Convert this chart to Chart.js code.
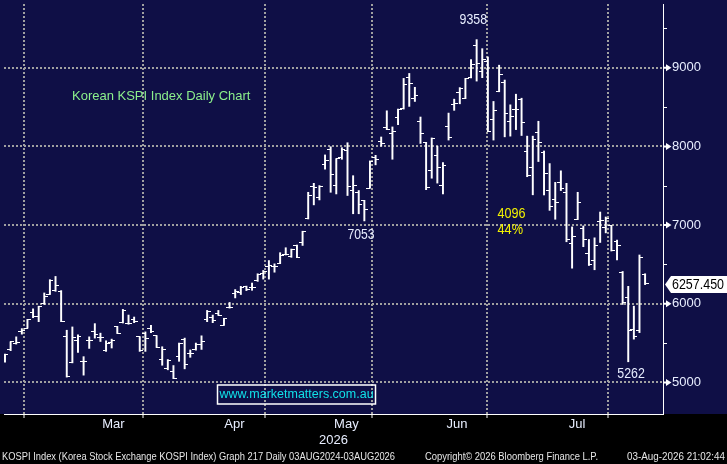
<!DOCTYPE html>
<html>
<head>
<meta charset="utf-8">
<script src="https://cdn.jsdelivr.net/npm/chart.js@4.4.1/dist/chart.umd.min.js"></script>
<style>
html,body{margin:0;padding:0;background:#000;}
#c{display:block;}
</style>
</head>
<body>
<canvas id="c" width="727" height="464" style="width:727px;height:464px"></canvas>
<script>
// ---- Data (KOSPI daily OHLC) ----
const opens = [5319,5412,5500,5646,5689,5894,5844,6007,6117,6167,6160,5583,5255,5529,5270,5529,5651,5570,5403,5507,5709,5759,5752,5797,5579,5626,5684,5592,5290,5172,5138,5324,5545,5361,5412,5487,5802,5831,5881,5726,5957,6129,6142,6221,6209,6293,6389,6470,6469,6515,6628,6603,6737,6775,7081,7493,7354,7766,7955,7502,7858,7942,7439,7408,7313,7471,7862,8068,8236,8160,8374,8483,8878,8610,8320,8047,7690,7887,7502,8257,8529,8685,8610,8874,9277,8950,9075,8340,8698,8811,8320,8466,8592,7933,7732,8181,7921,7439,7320,7543,7409,6766,7074,6955,6640,6545,7048,6964,6989,6796,6401,6083,5676,5655,6369];
const highs = [5361,5516,5579,5684,5802,5935,5969,6137,6306,6347,6167,5663,5705,5604,5327,5579,5747,5626,5529,5550,5712,5928,5856,5831,5582,5642,5726,5595,5453,5290,5214,5500,5563,5412,5500,5592,5915,5856,5915,5815,6016,6180,6221,6224,6263,6381,6423,6549,6507,6649,6712,6695,6746,6922,7417,7531,7502,7892,7996,7845,7984,8047,7628,7439,7315,7816,7887,8120,8453,8248,8475,8865,8928,8752,8374,8050,8108,8003,7795,8424,8601,8748,8865,9104,9358,9243,9138,8572,9033,8844,8529,8664,8613,8131,8131,8320,7942,7782,7543,7690,7531,6977,7417,6989,6817,6838,7166,7103,6997,6809,6410,6221,5969,6620,6381];
const lows = [5256,5403,5487,5613,5689,5822,5772,5991,6117,6158,5772,5067,5248,5381,5092,5432,5563,5520,5394,5437,5621,5755,5739,5759,5394,5394,5633,5444,5218,5160,5047,5268,5172,5319,5410,5419,5772,5759,5852,5724,5944,6074,6117,6167,6171,6284,6313,6313,6401,6512,6620,6590,6590,6741,7078,7257,7320,7711,7417,7396,7837,7376,7144,7144,7053,7468,7766,8003,8214,7837,8277,8475,8509,8572,8038,7450,7596,7534,7396,8081,8459,8542,8607,8871,8831,8874,8190,8081,8695,8122,8131,8214,8139,7615,7385,7808,7383,7187,7074,7439,6788,6452,7070,6725,6486,6432,6779,6901,6670,6557,5991,5262,5550,5633,6243];
const closes = [5349,5516,5510,5663,5802,5844,5966,6087,6297,6230,5775,5079,5570,5579,5260,5529,5604,5570,5500,5537,5626,5919,5752,5772,5403,5558,5646,5448,5415,5277,5050,5497,5223,5361,5487,5520,5906,5789,5856,5810,5957,6158,6212,6180,6209,6378,6410,6480,6469,6612,6628,6687,6592,6920,7376,7480,7493,7817,7640,7843,7963,7493,7502,7262,7200,7808,7837,8038,8216,8185,8466,8790,8802,8642,8160,7480,8095,7728,7753,8118,8542,8739,8862,9045,9054,9104,8194,8458,8920,8416,8383,8475,8299,7635,8088,8047,7657,7237,7290,7468,6813,6851,7283,6822,6502,6737,7052,7081,6683,6746,6011,5655,5579,6586,6257];

const monthLabels = ['Mar','Apr','May','Jun','Jul'];
const monthStarts = [8.7, 29.75, 51.9, 69.85, 91.1, 113];   // bar index of month boundaries
const monthMids = [19.3, 40.85, 60.8, 80.5, 101.9];          // bar index where month names sit
const yMajor = [5000, 6000, 7000, 8000, 9000];
const yMinor = [5500, 6500, 7500, 8500, 9500];
const lastPrice = 6257.450;
const peakValue = 9358, troughValue = 5262, localLow = 7053;
const swingText = ['4096', '44%'];
const titleText = 'Korean KSPI Index Daily Chart';
const siteText = 'www.marketmatters.com.au';
const yearLabel = '2026';
const footerLeft = 'KOSPI Index (Korea Stock Exchange KOSPI Index) Graph 217 Daily 03AUG2024-03AUG2026';
const footerMid = 'Copyright\u00A9 2026 Bloomberg Finance L.P.';
const footerRight = '03-Aug-2026 21:02:44';

// ---- styles ----
const NAVY = '#0f0f46';
const TXT = '#e8eeff';
const GRID = '#a0a0a0';
const SANS = "'Liberation Sans',Arial,sans-serif";

function tickCanvas(side) {
  const c = document.createElement('canvas');
  c.width = 7; c.height = 1;
  const g = c.getContext('2d');
  g.fillStyle = '#ffffff';
  if (side === 'left') g.fillRect(0, 0, 4, 1); else g.fillRect(3, 0, 4, 1);
  return c;
}
const leftTick = tickCanvas('left');
const rightTick = tickCanvas('right');

const idx = opens.map((_, i) => i);
const isIn = (arr, v) => arr.some(a => Math.abs(a - v) < 1e-6);

function narrowText(ctx, txt, x, y, w) {
  ctx.fillText(txt, x, y, w);
}

const decor = {
  id: 'decor',
  beforeDraw(chart) {
    const {ctx, chartArea} = chart;
    ctx.save();
    ctx.fillStyle = '#000';
    ctx.fillRect(0, 0, chart.width, chart.height);
    ctx.fillStyle = NAVY;
    ctx.fillRect(0, 0, chart.width, chartArea.bottom);
    ctx.restore();
  },
  beforeDatasetsDraw(chart) {
    chart.ctx.imageSmoothingEnabled = false;
  },
  afterDraw(chart) {
    const {ctx, chartArea} = chart;
    const xs = chart.scales.x, ys = chart.scales.y;
    const r = chartArea.right;
    ctx.save();
    // right-axis markers
    ctx.fillStyle = '#ffffff';
    ctx.strokeStyle = '#ffffff';
    ctx.lineWidth = 1;
    yMinor.forEach(v => {
      const py = Math.round(ys.getPixelForValue(v)) + 0.5;
      if (py < 0 || py > chartArea.bottom) return;
      ctx.beginPath(); ctx.moveTo(r, py); ctx.lineTo(r + 4, py); ctx.stroke();
    });
    yMajor.forEach(v => {
      const py = ys.getPixelForValue(v);
      ctx.beginPath();
      ctx.moveTo(r, py - 1); ctx.lineTo(r + 3, py - 1); ctx.lineTo(r + 3, py - 3.5);
      ctx.lineTo(r + 8.5, py); ctx.lineTo(r + 3, py + 3.5); ctx.lineTo(r + 3, py + 1); ctx.lineTo(r, py + 1);
      ctx.closePath(); ctx.fill();
    });

    // annotations
    ctx.textBaseline = 'middle';
    ctx.font = '15px ' + SANS;
    ctx.fillStyle = TXT;
    ctx.textAlign = 'center';
    narrowText(ctx, String(peakValue), xs.getPixelForValue(83.4), ys.getPixelForValue(peakValue) - 20, 27.5);
    narrowText(ctx, String(localLow), xs.getPixelForValue(63.4), ys.getPixelForValue(localLow) + 14, 27);
    narrowText(ctx, String(troughValue), xs.getPixelForValue(111.5), ys.getPixelForValue(troughValue) + 12, 27.5);
    ctx.textAlign = 'left';
    ctx.fillStyle = '#f2f200';
    narrowText(ctx, swingText[0], 497.5, 214, 28);
    narrowText(ctx, swingText[1], 497.5, 230, 25.5);

    ctx.font = '13px ' + SANS;
    ctx.fillStyle = '#8cf08c';
    ctx.fillText(titleText, 72, 96);

    // website box
    ctx.strokeStyle = '#ffffff';
    ctx.lineWidth = 1.5;
    ctx.strokeRect(217.5, 385, 158, 19);
    ctx.font = '12.5px ' + SANS;
    ctx.fillStyle = '#10e0e8';
    ctx.textAlign = 'center';
    ctx.fillText(siteText, 296.5, 395);

    // last price flag
    const yp = ys.getPixelForValue(lastPrice) + 1;
    ctx.fillStyle = '#ffffff';
    ctx.beginPath();
    ctx.moveTo(r + 2, yp);
    ctx.lineTo(r + 8, yp - 8.5);
    ctx.lineTo(chart.width, yp - 8.5);
    ctx.lineTo(chart.width, yp + 8.5);
    ctx.lineTo(r + 8, yp + 8.5);
    ctx.closePath(); ctx.fill();
    ctx.fillStyle = '#000000';
    ctx.textAlign = 'left';
    ctx.font = '15px ' + SANS;
    narrowText(ctx, lastPrice.toFixed(3), r + 9, yp + 0.5, 52);

    // footer
    ctx.font = '10.5px ' + SANS;
    ctx.fillStyle = '#e6e6e6';
    ctx.textAlign = 'left';
    ctx.fillText(footerLeft, 2, 457, 393);
    ctx.fillText(footerMid, 425, 457, 173);
    ctx.textAlign = 'right';
    ctx.fillText(footerRight, 725, 457, 98);
    ctx.restore();
  }
};

new Chart(document.getElementById('c'), {
  type: 'bar',
  data: {
    datasets: [
      {
        type: 'bar',
        data: idx.map(i => ({x: i, y: [lows[i], highs[i]]})),
        backgroundColor: '#ffffff',
        borderWidth: 0,
        barThickness: 1.3,
        order: 3
      },
      {
        type: 'line',
        data: idx.map(i => ({x: i, y: opens[i]})),
        showLine: false,
        pointStyle: leftTick,
        pointRadius: 3,
        pointHoverRadius: 3,
        order: 1
      },
      {
        type: 'line',
        data: idx.map(i => ({x: i, y: closes[i]})),
        showLine: false,
        pointStyle: rightTick,
        pointRadius: 3,
        pointHoverRadius: 3,
        order: 2
      }
    ]
  },
  options: {
    responsive: false,
    animation: false,
    events: [],
    layout: {padding: 0},
    plugins: {legend: {display: false}, tooltip: {enabled: false}},
    scales: {
      x: {
        type: 'linear',
        min: -0.177,
        max: 117.19,
        offset: false,
        afterBuildTicks(scale) {
          scale.ticks = monthStarts.concat(monthMids).sort((a, b) => a - b).map(v => ({value: v}));
        },
        afterFit(scale) {
          scale.height = 50;
          scale.paddingLeft = 0; scale.paddingRight = 0;
        },
        ticks: {
          autoSkip: false,
          maxRotation: 0,
          minRotation: 0,
          padding: -1,
          color: TXT,
          font: {family: SANS, size: 13},
          callback(v) {
            const k = monthMids.findIndex(m => Math.abs(m - v) < 1e-6);
            return k >= 0 ? monthLabels[k] : '';
          }
        },
        grid: {
          drawTicks: true,
          tickLength: 4,
          lineWidth: 2,
          color: c => (c.tick && isIn(monthStarts, c.tick.value)) ? GRID : 'rgba(0,0,0,0)',
          tickColor: c => (c.tick && isIn(monthStarts, c.tick.value)) ? '#ffffff' : 'rgba(0,0,0,0)',
          tickWidth: 1
        },
        border: {display: true, color: '#ffffff', width: 1, dash: [2, 2]},
        title: {
          display: true,
          text: yearLabel,
          color: TXT,
          font: {family: SANS, size: 13},
          padding: {top: 0, bottom: 16}
        }
      },
      y: {
        type: 'linear',
        position: 'right',
        min: 4598,
        max: 9811,
        afterBuildTicks(scale) {
          scale.ticks = yMajor.concat(yMinor).sort((a, b) => a - b).map(v => ({value: v}));
        },
        afterFit(scale) {
          scale.width = 64;
          scale.paddingTop = 0; scale.paddingBottom = 0;
        },
        ticks: {
          color: TXT,
          padding: 1,
          font: {family: SANS, size: 13},
          callback: v => (isIn(yMajor, v) ? String(v) : '')
        },
        grid: {
          drawTicks: true,
          tickLength: 8,
          lineWidth: 2,
          color: c => (c.tick && isIn(yMajor, c.tick.value)) ? GRID : 'rgba(0,0,0,0)',
          tickColor: 'rgba(0,0,0,0)'
        },
        border: {display: true, color: '#ffffff', width: 1, dash: [2, 2]}
      }
    }
  },
  plugins: [decor]
});
</script>
</body>
</html>
